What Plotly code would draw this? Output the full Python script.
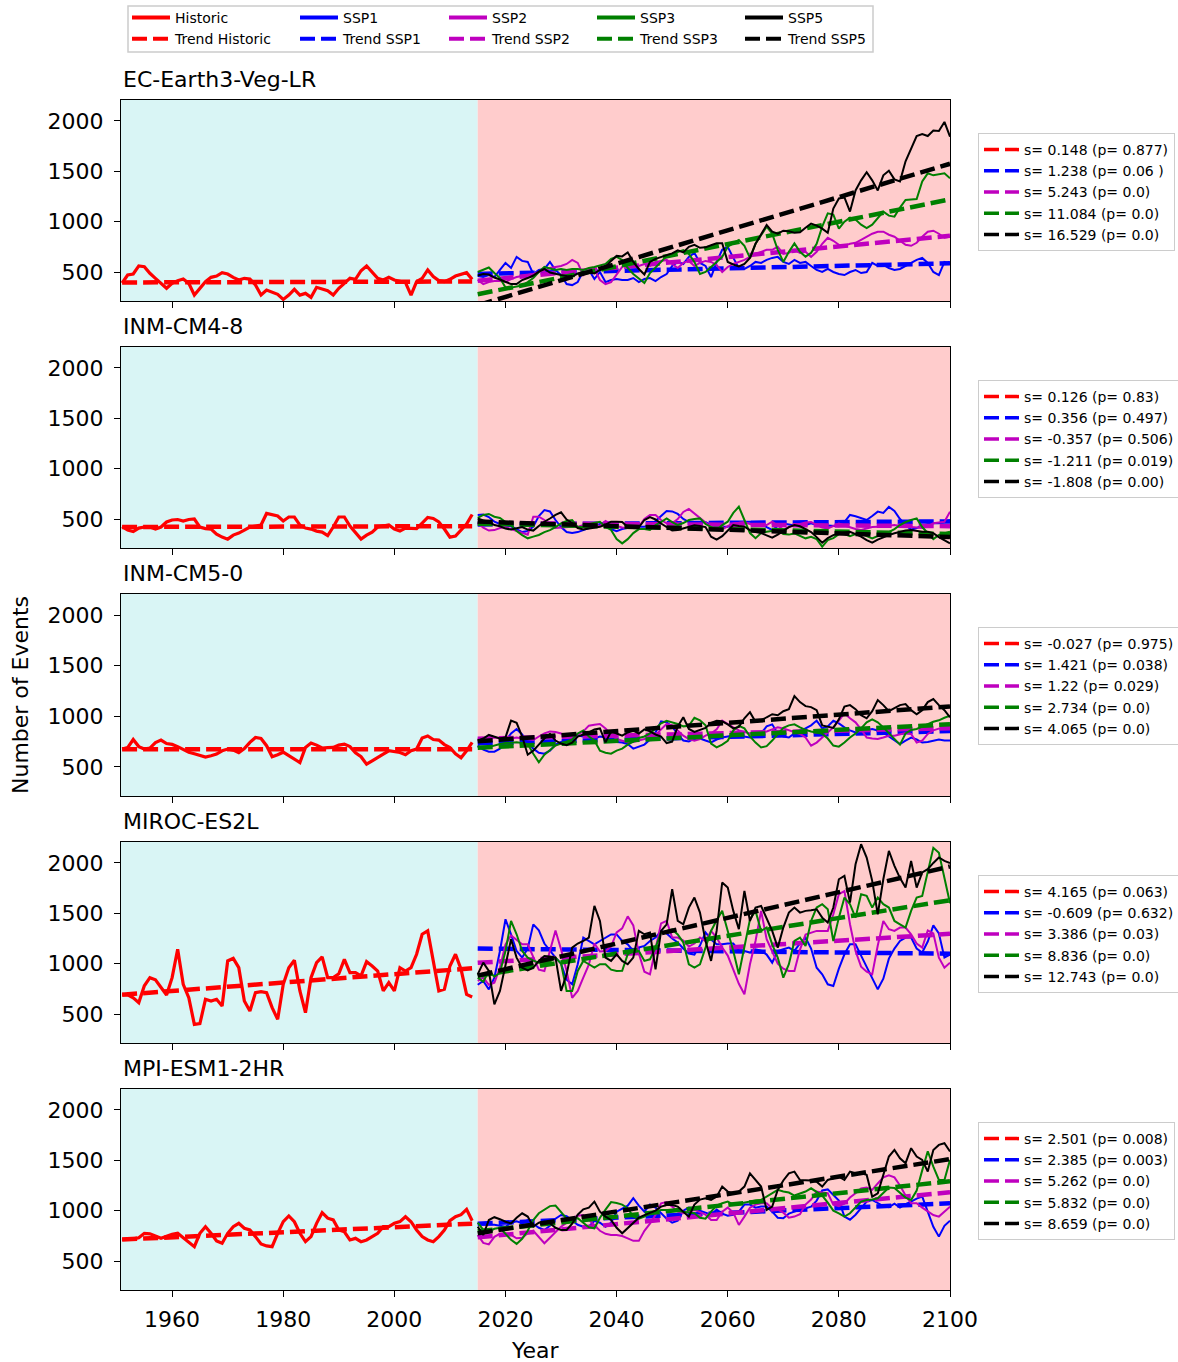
import numpy as np
import plotly.graph_objects as go

YEARS_HIST = list(range(1951, 2015))
YEARS_FUT = list(range(2015, 2101))

MODEL_NAMES = ["EC-Earth3-Veg-LR", "INM-CM4-8", "INM-CM5-0", "MIROC-ES2L", "MPI-ESM1-2HR"]
SERIES_NAMES = ["Historic", "SSP1", "SSP2", "SSP3", "SSP5"]
TREND_NAMES = ["Trend Historic", "Trend SSP1", "Trend SSP2", "Trend SSP3", "Trend SSP5"]
COLORS = ["#ff0000", "#0000ff", "#bf00bf", "#008000", "#000000"]

# ---------------- EC-Earth3-Veg-LR ----------------
ec_hist = [390, 470, 480, 560, 553, 487, 437, 387, 338, 387,
           414, 430, 387, 271, 338, 404, 447, 460, 493, 480,
           447, 420, 437, 430, 371, 271, 321, 298, 278, 228,
           271, 328, 271, 288, 248, 348, 334, 314, 271, 338,
           387, 437, 427, 513, 560, 493, 437, 420, 447, 420,
           404, 394, 271, 404, 437, 520, 454, 414, 404, 427,
           460, 480, 493, 427]
ec_ssp1 = [460, 450, 470, 450, 520, 590, 540, 650, 610, 600,
           480, 520, 530, 600, 520, 470, 380, 370, 400, 510,
           520, 430, 500, 400, 420, 430, 420, 420, 440, 400,
           430, 440, 410, 450, 480, 560, 600, 580, 650, 690,
           590, 560, 450, 600, 720, 750, 640, 540, 530, 560,
           600, 590, 620, 640, 650, 600, 580, 620, 590, 600,
           560, 520, 500, 530, 500, 480, 470, 500, 520, 490,
           500, 590, 560, 570, 540, 520, 530, 560, 590, 620,
           640, 590, 500, 470, 600, 580]
ec_ssp2 = [420, 380, 400, 410, 410, 400, 430, 450, 460, 470,
           480, 500, 510, 540, 550, 560, 580, 620, 590, 470,
           520, 530, 420, 380, 400, 470, 550, 590, 570, 560,
           580, 560, 600, 610, 620, 580, 540, 590, 610, 560,
           590, 610, 600, 570, 500, 550, 580, 600, 620, 650,
           680, 700, 720, 720, 750, 680, 690, 720, 690, 700,
           650, 700, 780, 840, 810, 770, 760, 780, 790, 820,
           850, 880, 900, 900, 870, 850, 810, 770, 760, 790,
           850, 900, 910, 880, 840, 850]
ec_ssp3 = [500, 525, 545, 490, 440, 345, 345, 355, 365, 400,
           440, 500, 550, 535, 520, 530, 520, 530, 530, 520,
           540, 550, 565, 580, 630, 650, 620, 540, 480, 430,
           390, 490, 540, 600, 660, 680, 700, 718, 680, 600,
           480, 500, 550, 600, 650, 751, 780, 817, 760, 640,
           780, 870, 950, 880, 720, 600, 700, 784, 700, 652,
           690, 780, 950, 1082, 1070, 930, 1000, 1040, 1020, 970,
           935, 970, 1030, 1100, 1060, 1050, 1140, 1215, 1220, 1225,
           1400, 1480, 1460, 1470, 1480, 1430]
ec_ssp5 = [465, 480, 475, 445, 425, 400, 380, 380, 420, 440,
           465, 503, 530, 495, 480, 470, 460, 455, 485, 500,
           495, 486, 520, 552, 610, 660, 655, 695, 600, 530,
           475, 600, 630, 650, 670, 685, 715, 695, 750, 770,
           740, 745, 765, 785, 785, 600, 575, 555, 580, 640,
           780, 870, 966, 900, 880, 910, 905, 890, 895, 940,
           980, 960, 930, 890, 1130, 1230, 1240, 1100, 1310, 1410,
           1490, 1410, 1310, 1460, 1505, 1420, 1400, 1600, 1720, 1850,
           1870, 1850, 1905, 1900, 1990, 1844]
ec_slopes = [0.148, 1.238, 5.243, 11.084, 16.529]
ec_pvals = ["0.877", "0.06 ", "0.0", "0.0", "0.0"]

# ---------------- INM-CM4-8 ----------------
inm48_hist = [424, 390, 375, 410, 420, 420, 400, 420, 470, 490,
              495, 480, 495, 500, 420, 405, 400, 350, 320, 300,
              340, 360, 390, 420, 430, 440, 555, 545, 530, 480,
              520, 520, 440, 410, 400, 380, 370, 335, 420, 520,
              520, 430, 360, 300, 340, 370, 420, 430, 440, 400,
              380, 410, 410, 405, 460, 515, 505, 470, 400, 320,
              330, 390, 450, 545]
inm48_ssp1 = [540, 545, 520, 473, 450, 435, 428, 400, 370, 380,
              424, 530, 589, 575, 490, 420, 370, 360, 370, 390,
              410, 424, 450, 470, 400, 380, 400, 415, 424, 424,
              424, 440, 480, 530, 580, 575, 550, 500, 470, 460,
              465, 470, 440, 424, 424, 424, 440, 465, 473, 473,
              465, 457, 420, 391, 430, 455, 445, 435, 425, 440,
              457, 440, 424, 435, 435, 428, 470, 540, 528, 510,
              490, 530, 573, 560, 620, 580, 500, 440, 395, 410,
              430, 450, 457, 457, 470, 490]
inm48_ssp2 = [460, 415, 385, 390, 410, 420, 400, 380, 360, 345,
              523, 523, 490, 440, 410, 415, 424, 424, 424, 440,
              455, 440, 430, 480, 450, 430, 415, 410, 415, 424,
              500, 540, 540, 490, 457, 457, 500, 570, 600, 556,
              510, 470, 420, 400, 395, 430, 457, 462, 470, 450,
              430, 432, 440, 473, 430, 395, 420, 440, 450, 465,
              470, 440, 415, 407, 430, 455, 435, 415, 400, 391,
              405, 420, 424, 424, 432, 440, 430, 424, 424, 418,
              410, 430, 457, 465, 473, 573]
inm48_ssp3 = [510, 540, 550, 523, 510, 470, 440, 380, 340, 308,
              325, 341, 370, 390, 420, 457, 480, 490, 420, 420,
              450, 465, 473, 420, 391, 300, 258, 300, 360, 400,
              400, 391, 440, 470, 506, 470, 440, 460, 490, 500,
              506, 450, 420, 391, 440, 473, 560, 622, 490, 360,
              310, 360, 374, 385, 390, 350, 345, 357, 330, 308,
              324, 300, 225, 290, 310, 350, 350, 330, 350, 357,
              330, 308, 330, 330, 370, 400, 440, 470, 490, 506,
              420, 360, 300, 341, 360, 374]
inm48_ssp5 = [505, 485, 473, 440, 428, 405, 395, 405, 420, 395,
              385, 430, 473, 505, 540, 566, 495, 460, 410, 395,
              403, 413, 422, 445, 473, 473, 470, 420, 410, 418,
              490, 518, 495, 455, 420, 385, 390, 405, 425, 438,
              430, 420, 324, 295, 330, 380, 440, 430, 424, 390,
              370, 360, 340, 315, 345, 385, 420, 440, 428, 400,
              370, 320, 265, 310, 340, 355, 365, 373, 350, 325,
              290, 265, 295, 320, 340, 358, 374, 385, 391, 380,
              374, 374, 360, 320, 291, 258]
inm48_slopes = [0.126, 0.356, -0.357, -1.211, -1.808]
inm48_pvals = ["0.83", "0.497", "0.506", "0.019", "0.00"]

# ---------------- INM-CM5-0 ----------------
inm50_hist = [676, 690, 770, 700, 676, 686, 740, 765, 730, 722,
              700, 670, 645, 630, 612, 596, 610, 626, 659, 676,
              665, 640, 680, 742, 790, 780, 709, 600, 620, 645,
              610, 580, 543, 692, 735, 715, 686, 690, 692, 715,
              725, 700, 640, 600, 526, 560, 590, 626, 659, 650,
              642, 620, 660, 676, 785, 805, 770, 765, 720, 692,
              630, 590, 659, 742]
inm50_ssp1 = [710, 670, 650, 650, 680, 760, 830, 874, 820, 740,
              680, 640, 630, 660, 720, 745, 760, 790, 810, 800,
              790, 780, 800, 790, 760, 745, 740, 725, 680, 700,
              720, 770, 840, 950, 940, 900, 820, 760, 750, 780,
              780, 760, 742, 770, 790, 800, 810, 808, 800, 790,
              810, 830, 900, 920, 830, 800, 790, 830, 860, 880,
              910, 957, 880, 900, 955, 930, 890, 860, 840, 850,
              860, 874, 860, 840, 800, 760, 725, 760, 790, 770,
              740, 745, 755, 770, 760, 760]
inm50_ssp2 = [775, 775, 780, 790, 780, 775, 780, 790, 780, 770,
              765, 800, 830, 850, 845, 830, 810, 800, 820, 850,
              907, 915, 924, 880, 820, 775, 760, 742, 745, 758,
              775, 792, 810, 870, 924, 910, 860, 808, 775, 758,
              775, 808, 830, 870, 957, 920, 890, 860, 845, 830,
              825, 835, 850, 870, 891, 880, 860, 840, 825, 790,
              709, 740, 790, 840, 890, 957, 1030, 980, 940, 870,
              790, 780, 775, 790, 808, 808, 820, 835, 825, 740,
              760, 825, 860, 880, 895, 907]
inm50_ssp3 = [700, 680, 695, 712, 725, 735, 742, 742, 735, 725,
              630, 545, 620, 670, 710, 730, 750, 770, 830, 860,
              800, 760, 660, 640, 630, 660, 680, 720, 750, 785,
              800, 830, 880, 930, 955, 940, 924, 900, 905, 985,
              960, 910, 730, 692, 720, 758, 860, 905, 880, 800,
              740, 692, 705, 760, 825, 885, 910, 920, 890, 865,
              850, 838, 828, 780, 710, 700, 740, 790, 830, 880,
              940, 970, 940, 890, 830, 780, 720, 830, 865, 874,
              895, 922, 945, 960, 985, 1005]
inm50_ssp5 = [758, 780, 815, 800, 780, 792, 957, 935, 800, 620,
              660, 720, 780, 825, 760, 730, 715, 740, 800, 820,
              840, 870, 880, 742, 850, 830, 808, 840, 858, 830,
              870, 850, 820, 800, 735, 750, 900, 990, 874, 845,
              865, 885, 935, 955, 950, 920, 880, 895, 980, 1040,
              945, 957, 990, 1020, 1010, 1050, 1070, 1200, 1140, 1100,
              1090, 1060, 910, 895, 885, 970, 1095, 1110, 1070, 1010,
              980, 1050, 1160, 1110, 1050, 1080, 1110, 1120, 1060, 1020,
              1060, 1140, 1170, 1110, 1060, 990]
inm50_slopes = [-0.027, 1.421, 1.22, 2.734, 4.065]
inm50_pvals = ["0.975", "0.038", "0.029", "0.0", "0.0"]

# ---------------- MIROC-ES2L ----------------
miroc_hist = [695, 690, 660, 613, 780, 861, 840, 760, 689, 861,
              1143, 795, 662, 397, 404, 646, 629, 646, 580, 1027,
              1053, 960, 629, 530, 712, 722, 712, 563, 447, 795,
              960, 1033, 729, 513, 861, 1010, 1067, 861, 861, 900,
              1043, 911, 911, 878, 1020, 977, 927, 729, 811, 729,
              960, 927, 960, 1093, 1292, 1325, 1010, 729, 745, 977,
              1093, 944, 695, 669]
miroc_ssp1 = [790, 828, 745, 861, 1126, 1441, 1290, 1126, 1060, 1150,
              1390, 1330, 1200, 1126, 1060, 1000, 840, 795, 994, 1259,
              1225, 1192, 1225, 1259, 1290, 1290, 1225, 1192, 1126, 1160,
              1176, 1225, 1259, 1325, 1300, 1250, 1210, 1150, 1100, 1090,
              1180, 1310, 1240, 1192, 1192, 1200, 1200, 1130, 1126, 1110,
              1143, 1130, 1090, 1010, 1126, 1143, 1160, 1126, 1200, 1259,
              1150, 960, 894, 795, 778, 950, 1093, 1192, 1192, 1080,
              970, 861, 745, 850, 1050, 1150, 1225, 1259, 1260, 1150,
              1110, 1220, 1380, 1300, 1060, 1090]
miroc_ssp2 = [830, 861, 790, 811, 960, 1190, 1280, 1240, 1192, 1192,
              1060, 940, 927, 1140, 1330, 1140, 927, 660, 729, 861,
              990, 1200, 1120, 1126, 1170, 1310, 1350, 1470, 1380, 1100,
              920, 894, 1160, 1400, 1424, 1259, 1259, 1230, 1170, 1200,
              1259, 1225, 1325, 1259, 1160, 1080, 940, 800, 696, 994,
              1225, 1524, 1242, 1126, 1000, 950, 927, 927, 1140, 1290,
              1310, 1325, 1325, 1325, 1490, 1690, 1720, 1391, 1126, 970,
              920, 894, 1180, 1424, 1342, 1325, 1358, 1358, 1290, 1200,
              1160, 1330, 1300, 1060, 960, 1010]
miroc_ssp3 = [861, 820, 927, 870, 910, 1126, 1424, 1292, 1126, 1060,
              1030, 1010, 1010, 1020, 1060, 1000, 729, 729, 927, 1027,
              994, 960, 994, 994, 940, 927, 930, 1093, 1126, 1126,
              1027, 1043, 1159, 1308, 1325, 1340, 1290, 1210, 994, 960,
              994, 1150, 1325, 1430, 1524, 1325, 1126, 894, 1159, 1440,
              1524, 1325, 1358, 1192, 1060, 861, 994, 1225, 1259, 1175,
              1424, 1557, 1590, 1540, 1225, 1457, 1656, 1590, 1457, 1689,
              1673, 1557, 1656, 1590, 1557, 1424, 1391, 1358, 1524, 1656,
              1673, 1900, 2150, 2100, 1850, 1600]
miroc_ssp5 = [894, 1010, 927, 596, 729, 994, 1242, 1060, 960, 934,
              960, 1027, 1076, 1070, 1060, 729, 894, 1159, 1200, 1225,
              1259, 1573, 1424, 1060, 1027, 1093, 1027, 994, 1060, 1325,
              1292, 1308, 944, 1325, 1391, 1739, 1424, 1391, 1557, 1656,
              1507, 1225, 1027, 1325, 1805, 1755, 1524, 1342, 1722, 1424,
              1557, 1573, 1457, 1325, 1159, 1358, 1507, 1557, 1507, 1524,
              1530, 1540, 1457, 1408, 1557, 1838, 1871, 1606, 1987, 2186,
              2054, 1822, 1490, 1838, 2120, 1971, 1850, 1755, 2020, 1755,
              1905, 1938, 2000, 2054, 2020, 2000]
miroc_slopes = [4.165, -0.609, 3.386, 8.836, 12.743]
miroc_pvals = ["0.063", "0.632", "0.03", "0.0", "0.0"]

# ---------------- MPI-ESM1-2HR ----------------
mpi_hist = [715, 715, 720, 730, 775, 770, 745, 725, 745, 765,
            775, 730, 690, 642, 775, 841, 775, 700, 676, 775,
            840, 874, 825, 808, 742, 670, 650, 642, 775, 891,
            947, 890, 775, 692, 742, 874, 980, 925, 908, 808,
            790, 709, 725, 692, 709, 742, 775, 841, 841, 874,
            891, 940, 890, 808, 742, 709, 692, 742, 808, 900,
            940, 960, 1013, 900]
mpi_ssp1 = [874, 860, 860, 860, 850, 840, 880, 895, 875, 905,
            870, 830, 808, 850, 920, 957, 945, 900, 860, 841,
            841, 900, 880, 840, 880, 990, 1023, 1050, 1123, 1050,
            990, 1060, 1030, 974, 920, 880, 900, 1000, 1030, 1020,
            1000, 980, 960, 1010, 970, 950, 960, 990, 1060, 1060,
            1030, 1040, 1040, 990, 930, 924, 970, 990, 1007, 1023,
            1040, 1100, 1200, 1211, 1150, 1100, 941, 910, 960, 1030,
            1090, 1106, 1075, 1045, 1035, 1070, 1030, 1065, 1090, 1120,
            1140, 990, 840, 742, 850, 900]
mpi_ssp2 = [760, 680, 665, 740, 770, 775, 760, 725, 730, 775,
            800, 740, 676, 730, 790, 841, 880, 925, 950, 957,
            910, 850, 800, 770, 758, 758, 748, 725, 700, 700,
            800, 870, 960, 1073, 1085, 1040, 990, 974, 990, 1007,
            985, 960, 907, 907, 990, 1030, 980, 858, 941, 1030,
            1060, 1073, 1073, 1023, 1010, 980, 930, 941, 965, 1060,
            1110, 1189, 1180, 1173, 1060, 1045, 1070, 1130, 1173, 1220,
            1230, 1206, 1270, 1330, 1350, 1330, 1250, 1150, 1073, 1073,
            1030, 990, 957, 941, 990, 1040]
mpi_ssp3 = [880, 808, 792, 820, 830, 775, 710, 670, 720, 800,
            907, 974, 1010, 1045, 1050, 990, 920, 907, 925, 880,
            835, 825, 930, 1010, 1085, 1075, 1060, 1025, 940, 920,
            941, 970, 990, 1007, 1007, 1007, 1000, 990, 980, 974,
            930, 920, 990, 1050, 1073, 1090, 1060, 1070, 1085, 1095,
            1100, 1106, 1140, 1175, 1206, 1190, 1180, 1150, 1170, 1190,
            1222, 1190, 1150, 1080, 1000, 974, 941, 974, 1030, 1090,
            1106, 1110, 1123, 1173, 1230, 1225, 1180, 1130, 1106, 1200,
            1400, 1590, 1437, 1305, 1305, 1504]
mpi_ssp5 = [841, 758, 907, 935, 915, 890, 874, 930, 974, 941,
            841, 880, 890, 874, 830, 808, 808, 870, 960, 1013,
            1030, 1090, 990, 941, 907, 830, 775, 830, 880, 930,
            955, 974, 1000, 1040, 1056, 1056, 1040, 990, 940, 1060,
            1110, 1123, 1106, 1139, 1239, 1189, 1173, 1189, 1239, 1371,
            1305, 1239, 1007, 1040, 1206, 1300, 1371, 1388, 1305, 1305,
            1300, 1288, 1239, 1305, 1322, 1338, 1305, 1388, 1371, 1371,
            1355, 1139, 1173, 1355, 1537, 1603, 1520, 1471, 1620, 1537,
            1504, 1388, 1603, 1653, 1670, 1587]
mpi_slopes = [2.501, 2.385, 5.262, 5.832, 8.659]
mpi_pvals = ["0.008", "0.003", "0.0", "0.0", "0.0"]

X_TICKS = [1960, 1980, 2000, 2020, 2040, 2060, 2080, 2100]
Y_TICKS = [500, 1000, 1500, 2000]

# ---------------- layout geometry (pixels) ----------------
W, H = 1178, 1362
X0, X1 = 121, 950
TOPS = [100, 347, 594, 842, 1089]
BOTS = [301, 548, 796, 1043, 1290]
XR = [1950.8, 2100]
YR = [212, 2208]
SPLIT = 2015


def px(x):
    return x / W


def py(y):
    return 1 - y / H


def trend(years, vals, slope):
    x = np.asarray(years, dtype=float)
    y = np.asarray(vals, dtype=float)
    return (y.mean() + slope * (x - x.mean())).tolist()


panels = [
    (ec_hist, ec_ssp1, ec_ssp2, ec_ssp3, ec_ssp5, ec_slopes, ec_pvals),
    (inm48_hist, inm48_ssp1, inm48_ssp2, inm48_ssp3, inm48_ssp5, inm48_slopes, inm48_pvals),
    (inm50_hist, inm50_ssp1, inm50_ssp2, inm50_ssp3, inm50_ssp5, inm50_slopes, inm50_pvals),
    (miroc_hist, miroc_ssp1, miroc_ssp2, miroc_ssp3, miroc_ssp5, miroc_slopes, miroc_pvals),
    (mpi_hist, mpi_ssp1, mpi_ssp2, mpi_ssp3, mpi_ssp5, mpi_slopes, mpi_pvals),
]

DASH = "15px,6px"
FONT = "DejaVu Sans"

fig = go.Figure()
layout = dict(
    width=W, height=H,
    margin=dict(l=0, r=0, t=0, b=0, autoexpand=False),
    paper_bgcolor="white", plot_bgcolor="white",
    font=dict(family=FONT, color="black"),
    showlegend=True,
    shapes=[], annotations=[],
)

for i, (hist, s1, s2, s3, s5, slopes, pvals) in enumerate(panels):
    n = i + 1
    xa = "x" if n == 1 else f"x{n}"
    ya = "y" if n == 1 else f"y{n}"
    series = [(YEARS_HIST, hist), (YEARS_FUT, s1), (YEARS_FUT, s2), (YEARS_FUT, s3), (YEARS_FUT, s5)]
    for k, (yrs, vals) in enumerate(series):
        fig.add_trace(go.Scatter(
            x=yrs, y=vals, mode="lines",
            line=dict(color=COLORS[k], width=3.2 if k == 0 else 2),
            showlegend=False, hoverinfo="skip", xaxis=xa, yaxis=ya))
        fig.add_trace(go.Scatter(
            x=yrs, y=trend(yrs, vals, slopes[k]), mode="lines",
            line=dict(color=COLORS[k], width=4.5, dash=DASH),
            showlegend=False, hoverinfo="skip", xaxis=xa, yaxis=ya))
    # right-hand legend of this panel
    leg = f"legend{n + 5}"
    for k in range(5):
        fig.add_trace(go.Scatter(
            x=[None], y=[None], mode="lines",
            line=dict(color=COLORS[k], width=3.5, dash=DASH),
            name=f"s= {slopes[k]} (p= {pvals[k]})",
            legend=leg, xaxis=xa, yaxis=ya))
    layout[leg] = dict(
        x=px(978), y=py(TOPS[i] + 33), xanchor="left", yanchor="top",
        bgcolor="white", bordercolor="#cccccc", borderwidth=1,
        font=dict(family=FONT, size=14), tracegroupgap=0, itemwidth=35,
        orientation="v")

    dom_x = [px(X0), px(X1)]
    dom_y = [py(BOTS[i]), py(TOPS[i])]
    layout["xaxis" if n == 1 else f"xaxis{n}"] = dict(
        domain=dom_x, range=XR, anchor=ya, showgrid=False, zeroline=False,
        showline=True, mirror=True, linecolor="black", linewidth=1.3,
        ticks="outside", ticklen=6, tickwidth=1.3, tickcolor="black",
        tickvals=X_TICKS, showticklabels=(n == 5),
        tickfont=dict(family=FONT, size=22), ticklabelstandoff=3)
    layout["yaxis" if n == 1 else f"yaxis{n}"] = dict(
        domain=dom_y, range=YR, anchor=xa, showgrid=False, zeroline=False,
        showline=True, mirror=True, linecolor="black", linewidth=1.3,
        ticks="outside", ticklen=6, tickwidth=1.3, tickcolor="black",
        tickvals=Y_TICKS, tickfont=dict(family=FONT, size=22),
        ticklabelstandoff=6)
    layout["shapes"].append(dict(
        type="rect", xref=xa, yref=f"{ya} domain", x0=XR[0], x1=SPLIT, y0=0, y1=1,
        fillcolor="#d9f5f5", line=dict(width=0), layer="below"))
    layout["shapes"].append(dict(
        type="rect", xref=xa, yref=f"{ya} domain", x0=SPLIT, x1=XR[1], y0=0, y1=1,
        fillcolor="#ffcccc", line=dict(width=0), layer="below"))
    layout["annotations"].append(dict(
        text=MODEL_NAMES[i], xref="paper", yref="paper", x=px(X0), y=py(TOPS[i] - 6),
        xanchor="left", yanchor="bottom", showarrow=False,
        font=dict(family=FONT, size=22)))

# top legend: five columns, each one a small vertical legend (series + its trend)
COL_X = [127, 295, 444, 592, 740]
for k in range(5):
    leg = "legend" if k == 0 else f"legend{k + 1}"
    fig.add_trace(go.Scatter(
        x=[None], y=[None], mode="lines", line=dict(color=COLORS[k], width=4),
        name=SERIES_NAMES[k], legend=leg))
    fig.add_trace(go.Scatter(
        x=[None], y=[None], mode="lines", line=dict(color=COLORS[k], width=4, dash=DASH),
        name=TREND_NAMES[k], legend=leg))
    layout[leg] = dict(
        x=px(COL_X[k]), y=py(2), xanchor="left", yanchor="top",
        bgcolor="rgba(0,0,0,0)", borderwidth=0, orientation="v",
        font=dict(family=FONT, size=14), tracegroupgap=0, itemwidth=38)

layout["shapes"].append(dict(
    type="rect", xref="paper", yref="paper", x0=px(128), x1=px(873), y0=py(52), y1=py(6),
    line=dict(color="#cccccc", width=1.5), fillcolor="white", layer="below"))

layout["annotations"].append(dict(
    text="Number of Events", xref="paper", yref="paper", x=px(20), y=py(695),
    xanchor="center", yanchor="middle", textangle=-90, showarrow=False,
    font=dict(family=FONT, size=22)))
layout["annotations"].append(dict(
    text="Year", xref="paper", yref="paper", x=px((X0 + X1) / 2), y=py(1350),
    xanchor="center", yanchor="middle", showarrow=False,
    font=dict(family=FONT, size=22)))

fig.update_layout(**layout)
fig.write_html("out.html")
